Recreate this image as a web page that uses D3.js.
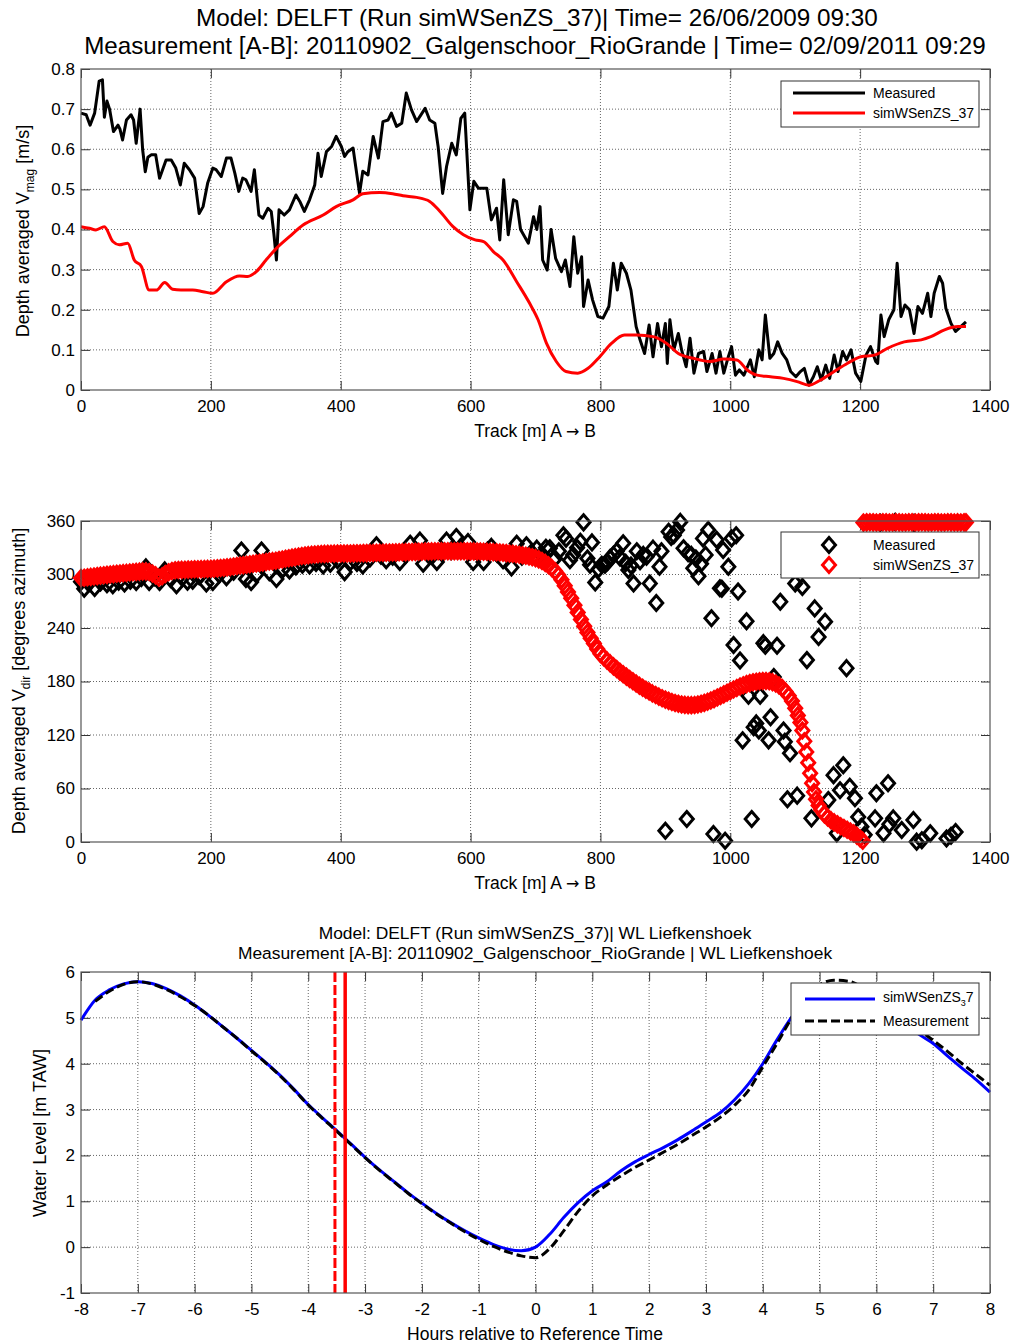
<!DOCTYPE html>
<html>
<head>
<meta charset="utf-8">
<script src="https://cdn.jsdelivr.net/npm/d3@7"></script>
<style>
  body { margin: 0; background: #fff; }
  svg text { font-family: "Liberation Sans", Arial, sans-serif; fill: #000; }
</style>
</head>
<body>
<div id="chart-area"></div>
<script>
/*
*    velocity / direction / water level along track
*/

// ---- panel 1 : depth averaged velocity magnitude [m/s] vs track [m]
var measuredVmag = [
  [0,0.69],[8,0.686],[14,0.66],[21,0.69],[28,0.77],[33,0.773],[36,0.68],[40,0.72],[44,0.70],[50,0.644],
  [57,0.66],[60,0.65],[64,0.623],[70,0.673],[77,0.686],[81,0.673],[85,0.615],[91,0.70],[95,0.598],[99,0.544],
  [103,0.58],[108,0.586],[115,0.586],[121,0.528],[131,0.573],[139,0.573],[146,0.553],[153,0.511],[159,0.565],[167,0.549],
  [175,0.528],[182,0.44],[188,0.457],[195,0.515],[203,0.553],[208,0.549],[216,0.532],[224,0.578],[231,0.578],[237,0.54],
  [243,0.495],[249,0.528],[254,0.524],[262,0.495],[267,0.549],[274,0.436],[280,0.428],[288,0.453],[293,0.445],[297,0.39],
  [301,0.324],[305,0.449],[313,0.436],[321,0.449],[331,0.486],[337,0.47],[344,0.445],[352,0.474],[360,0.511],[365,0.59],
  [370,0.532],[378,0.594],[386,0.607],[393,0.632],[401,0.607],[406,0.582],[411,0.594],[419,0.603],[429,0.49],[434,0.545],
  [442,0.536],[450,0.632],[458,0.578],[465,0.669],[473,0.673],[478,0.69],[486,0.657],[494,0.665],[501,0.74],[509,0.698],
  [517,0.669],[530,0.702],[537,0.673],[545,0.665],[550,0.607],[557,0.49],[563,0.557],[571,0.615],[578,0.586],[585,0.677],
  [591,0.69],[599,0.449],[605,0.52],[612,0.503],[625,0.503],[632,0.424],[640,0.453],[645,0.374],[651,0.524],[658,0.387],
  [666,0.474],[671,0.47],[677,0.40],[689,0.366],[697,0.432],[702,0.40],[707,0.457],[711,0.324],[718,0.299],[724,0.40],
  [731,0.328],[740,0.295],[746,0.324],[753,0.258],[759,0.382],[765,0.291],[771,0.332],[774,0.208],[781,0.274],[788,0.224],
  [796,0.183],[804,0.179],[813,0.208],[820,0.316],[826,0.249],[832,0.316],[840,0.291],[847,0.249],[855,0.158],[861,0.125],
  [868,0.091],[875,0.162],[881,0.083],[888,0.166],[894,0.108],[900,0.166],[903,0.066],[907,0.175],[913,0.10],[920,0.141],
  [925,0.10],[932,0.058],[938,0.129],[944,0.042],[951,0.091],[959,0.096],[964,0.046],[972,0.091],[978,0.042],[984,0.096],
  [990,0.042],[997,0.083],[1002,0.108],[1008,0.037],[1014,0.05],[1021,0.037],[1031,0.075],[1037,0.033],[1044,0.10],[1049,0.075],
  [1054,0.187],[1061,0.079],[1067,0.091],[1073,0.12],[1080,0.091],[1087,0.075],[1093,0.046],[1101,0.033],[1108,0.046],[1114,0.054],
  [1121,0.012],[1128,0.033],[1134,0.058],[1140,0.025],[1147,0.062],[1153,0.029],[1160,0.087],[1166,0.046],[1173,0.096],[1179,0.075],
  [1186,0.10],[1193,0.042],[1201,0.021],[1209,0.087],[1216,0.108],[1224,0.071],[1227,0.066],[1232,0.187],[1237,0.133],[1244,0.175],
  [1252,0.20],[1257,0.316],[1263,0.183],[1269,0.212],[1276,0.20],[1283,0.141],[1289,0.208],[1296,0.191],[1304,0.241],[1309,0.183],
  [1314,0.241],[1322,0.283],[1327,0.266],[1332,0.204],[1340,0.166],[1347,0.146],[1355,0.158],[1363,0.17]
];
var simVmag = [
  [0,0.407],[13,0.403],[23,0.399],[36,0.407],[49,0.37],[59,0.362],[72,0.366],[82,0.324],[93,0.308],[105,0.249],
  [116,0.249],[129,0.268],[141,0.251],[154,0.249],[172,0.249],[188,0.245],[203,0.241],[224,0.27],[244,0.284],[257,0.283],
  [270,0.295],[285,0.324],[301,0.353],[321,0.382],[342,0.411],[373,0.436],[393,0.457],[419,0.474],[434,0.489],[460,0.492],
  [480,0.489],[496,0.484],[517,0.48],[537,0.47],[553,0.445],[573,0.407],[589,0.387],[607,0.374],[620,0.37],[635,0.345],
  [650,0.324],[671,0.27],[691,0.216],[704,0.175],[717,0.116],[732,0.071],[747,0.046],[765,0.042],[781,0.054],[799,0.083],
  [817,0.116],[837,0.137],[856,0.137],[881,0.133],[902,0.116],[920,0.091],[943,0.079],[969,0.071],[990,0.077],[1010,0.075],
  [1026,0.05],[1041,0.037],[1062,0.033],[1082,0.029],[1103,0.021],[1121,0.012],[1139,0.025],[1160,0.046],[1180,0.066],[1201,0.083],
  [1222,0.087],[1242,0.104],[1268,0.12],[1294,0.125],[1309,0.133],[1330,0.15],[1351,0.158],[1363,0.158]
];

// ---- panel 2 : depth averaged direction [degrees azimuth] vs track [m]
var measuredVdir = [
  [0,292],[5,284],[12,290],[21,285],[30,291],[40,289],[49,288],[58,292],[67,290],[76,293],[85,291.5],[93,296],[100,308],
  [105,291.5],[113,297],[121,291.5],[129,304.6],[138,295],[147,288],[156,296],[164,292],[172,293],[182,298],[193,290],
  [203,291.5],[213,300],[224,297],[235,303],[247,327],[254,295],[262,291.5],[270,300],[278,327],[290,302.7],[301,295],
  [311,306],[321,304.6],[331,309],[341,311],[352,310],[362,313],[373,310],[384,312],[395,316],[406,302.7],[415,314],
  [425,313],[434,310],[445,318],[455,332.7],[462,321],[470,316],[480,320],[491,314],[500,322],[507,334.5],[515,326],
  [522,338],[527,312],[535,325],[541,321],[548,314],[556,324],[563,338],[570,326],[578,342],[587,328],[596,336.5],
  [604,314],[612,324],[620,314],[626,327],[632,331],[641,323],[650,316],[657,322],[663,308],[671,334.5],[679,320],
  [686,332.7],[694,325],[702,329],[710,322],[716,330],[722,329.4],[730,318],[736,326],[743,344],[747,340],[753,316],
  [758,322],[764,330],[769,336.8],[774,358.5],[780,318],[784,311],[787,336],[792,291],[797,306],[802,311],[807,311],
  [811,314],[815,318.6],[820,322],[825,326],[830,319],[835,335],[839,313],[843,305],[847,310],[851,290],[856,326],
  [861,315],[866,322],[871,320],[876,290],[881,329],[886,268],[891,308.7],[894,326],[900,12.7],[905,348],[909,342],
  [913,344],[918,350],[923,359],[928,329.4],[933,25.7],[935,324],[940,322],[943,307],[947,318],[951,298],[955,312],
  [958,340.5],[962,322],[966,350],[971,251],[974,9],[979,339],[984,284.5],[987,284],[989,327.5],[992,1.4],[997,308.7],
  [1002,340.5],[1005,221],[1009,344],[1012,281],[1015,203.5],[1019,114],[1025,247.5],[1028,164],[1033,25.7],[1036,128.7],
  [1040,133],[1044,125],[1046,164],[1051,223],[1054,220],[1059,114],[1062,140],[1067,185],[1072,220],[1077,269.5],
  [1082,125],[1084,112.5],[1088,48],[1092,99.5],[1100,290],[1103,52],[1111,286],[1118,204],[1125,26.5],[1130,262],
  [1136,230],[1146,247],[1151,47],[1159,75],[1164,9.7],[1169,58],[1174,86],[1179,195],[1184,62],[1192,49],[1197,28],
  [1202,17],[1207,8],[1223,26.5],[1225,54.6],[1231,358],[1236,9.7],[1243,65.8],[1245,20],[1251,26.5],[1254,359],
  [1264,13.5],[1282,24.7],[1283,358],[1287,0.4],[1295,2],[1308,9.7],[1333,4],[1340,7],[1347,11.2]
];
var simVdir = [
  [0,296],[5,296.4],[10,296.9],[15,297.3],[20,297.8],[25,298.2],[30,298.7],[35,299.1],[40,299.6],[45,300],
  [50,300.4],[55,300.8],[60,301.1],[65,301.5],[70,301.8],[75,302.2],[80,302.5],[85,302.9],[90,303.2],[95,303.5],
  [100,303.5],[105,302.8],[110,301.2],[115,299],[120,296.5],[125,298],[130,300.5],[135,302.6],[140,304],[145,304.7],
  [150,305],[155,305.2],[160,305.4],[165,305.5],[170,305.6],[175,305.8],[180,305.9],[185,306],[190,306.1],[195,306.3],
  [200,306.4],[205,306.6],[210,306.9],[215,307.2],[220,307.5],[225,308],[230,308.5],[235,309],[240,309.5],[245,310],
  [250,310.5],[255,311],[260,311.5],[265,312],[270,312.5],[275,313],[280,313.5],[285,314],[290,314.5],[295,315],
  [300,315.5],[305,316.2],[310,316.9],[315,317.6],[320,318.3],[325,318.9],[330,319.5],[335,320.1],[340,320.7],[345,321.2],
  [350,321.7],[355,322.1],[360,322.5],[365,322.8],[370,323],[375,323.1],[380,323.2],[385,323.3],[390,323.4],[395,323.5],
  [400,323.5],[405,323.5],[410,323.6],[415,323.6],[420,323.7],[425,323.8],[430,323.9],[435,324],[440,324],[445,324.1],
  [450,324.2],[455,324.3],[460,324.3],[465,324.4],[470,324.5],[475,324.6],[480,324.7],[485,324.8],[490,324.9],[495,325],
  [500,325.1],[505,325.2],[510,325.3],[515,325.4],[520,325.5],[525,325.6],[530,325.7],[535,325.8],[540,325.9],[545,326],
  [550,326],[555,326],[560,326.1],[565,326.1],[570,326.1],[575,326.1],[580,326],[585,326],[590,326],[595,326],
  [600,325.9],[605,325.9],[610,325.8],[615,325.7],[620,325.6],[625,325.5],[630,325.3],[635,325.1],[640,324.9],[645,324.6],
  [650,324.3],[655,324],[660,323.6],[665,323.2],[670,322.7],[675,322.2],[680,321.6],[685,321],[690,320.2],[695,319.4],
  [700,318.4],[705,317],[710,315.2],[715,313],[720,310.4],[725,307.4],[730,304],[735,299.5],[740,294],[745,287.5],
  [750,280.5],[755,273.5],[760,265.5],[765,257.5],[770,249.5],[775,242],[780,235],[785,228.5],[790,222.5],[795,216.5],
  [800,211],[805,207.2],[810,203.7],[815,200.3],[820,197],[825,194],[830,191],[835,188.2],[840,185.5],[845,182.8],
  [850,180.2],[855,177.7],[860,175.3],[865,173],[870,170.8],[875,168.7],[880,166.7],[885,164.8],[890,163],[895,161.3],
  [900,159.7],[905,158.3],[910,157],[915,155.9],[920,155],[925,154.3],[930,153.8],[935,153.5],[940,153.5],[945,153.7],
  [950,154.2],[955,155],[960,156],[965,157.2],[970,158.6],[975,160.2],[980,162],[985,163.8],[990,165.6],[995,167.4],
  [1000,169.2],[1005,171],[1010,172.7],[1015,174.3],[1020,175.8],[1025,177.1],[1030,178.2],[1035,179.1],[1040,179.8],[1045,180.3],
  [1050,180.6],[1055,180.6],[1060,180.2],[1065,179.3],[1070,177.8],[1075,175.6],[1080,172.6],[1085,168.8],[1090,164],[1095,158],
  [1100,150],[1104,142],[1108,134],[1111,125],[1114,113],[1117,101],[1120,89],[1123,77],[1126,66],[1129,56],
  [1132,48],[1136,41],[1140,36],[1145,31],[1150,27.5],[1155,24.5],[1160,22],[1165,19.8],[1170,17.7],[1175,15.7],
  [1180,13.8],[1185,11.8],[1190,9.7],[1195,7],[1200,4],[1204,1.5],
  [1205,358.2],[1210,358.5],[1215,358.6],[1220,358.5],[1225,358.3],[1230,358.4],[1235,358.6],[1240,358.5],[1245,358.3],[1250,358.4],
  [1255,358.6],[1260,358.5],[1265,358.3],[1270,358.4],[1275,358.6],[1280,358.5],[1285,358.4],[1290,358.5],[1295,358.6],[1300,358.5],
  [1305,358.3],[1310,358.4],[1315,358.6],[1320,358.5],[1325,358.3],[1330,358.4],[1335,358.6],[1340,358.5],[1345,358.4],[1350,358.5],
  [1355,358.4],[1360,358.5],[1363,358.5]
];

// ---- panel 3 : water level [m TAW] vs hours relative to reference time
var hours = [
  -8,-7.75,-7.5,-7.25,-7,-6.75,-6.5,-6.25,-6,-5.75,-5.5,-5.25,-5,-4.75,-4.5,-4.25,-4,-3.75,-3.5,-3.25,-3,
  -2.75,-2.5,-2.25,-2,-1.75,-1.5,-1.25,-1,-0.75,-0.5,-0.25,0,0.25,0.5,0.75,1,1.25,1.5,1.75,2,2.25,2.5,2.75,
  3,3.25,3.5,3.75,4,4.25,4.5,4.75,5,5.25,5.5,5.75,6,6.25,6.5,6.75,7,7.25,7.5,7.75,8
];
var simWL = [
  4.95,5.39,5.61,5.74,5.79,5.75,5.64,5.48,5.28,5.05,4.80,4.55,4.29,4.03,3.75,3.44,3.11,2.82,2.54,2.25,1.96,
  1.69,1.44,1.19,0.96,0.74,0.54,0.36,0.20,0.06,-0.04,-0.08,0.0,0.28,0.65,0.97,1.23,1.42,1.66,1.86,2.02,2.17,2.34,2.53,
  2.73,2.93,3.21,3.56,4.00,4.52,5.00,5.38,5.62,5.72,5.72,5.60,5.38,5.12,4.88,4.64,4.44,4.17,3.91,3.66,3.38
];
var measWL = [
  null,5.36,5.58,5.73,5.79,5.74,5.62,5.46,5.27,5.05,4.80,4.55,4.28,4.02,3.74,3.43,3.10,2.81,2.53,2.24,1.95,
  1.68,1.43,1.18,0.95,0.73,0.53,0.34,0.17,0.02,-0.10,-0.19,-0.23,-0.03,0.36,0.78,1.12,1.35,1.55,1.74,1.90,2.07,2.24,2.43,
  2.62,2.83,3.09,3.42,3.93,4.44,4.98,5.45,5.72,5.82,5.80,5.67,5.48,5.25,5.00,4.74,4.51,4.27,4.01,3.77,3.53
];
var measTime = -3.53;   // dashed red line
var modelTime = -3.35;  // solid red line

// ---- ticks
var trackTicks = [0, 200, 400, 600, 800, 1000, 1200, 1400];
var vmagTicks = [0, 0.1, 0.2, 0.3, 0.4, 0.5, 0.6, 0.7, 0.8];
var vdirTicks = [0, 60, 120, 180, 240, 300, 360];
var hourTicks = [-8, -7, -6, -5, -4, -3, -2, -1, 0, 1, 2, 3, 4, 5, 6, 7, 8];
var wlTicks = [-1, 0, 1, 2, 3, 4, 5, 6];

var width = 1013;
var height = 1344;
var plotLeft = 81;
var plotRight = 990;

var svg = d3.select("#chart-area")
  .append("svg")
  .attr("width", width)
  .attr("height", height);

var plain = d => String(d);

// axes box with inward ticks on all four sides and dotted grid
function makeAxes(top, bottom, xDomain, xTicks, yDomain, yTicks, yFormat) {
  var x = d3.scaleLinear().domain(xDomain).range([plotLeft, plotRight]);
  var y = d3.scaleLinear().domain(yDomain).range([bottom, top]);

  var grid = svg.append("g");
  grid.selectAll(".vgrid")
    .data(xTicks.slice(1, -1)).enter()
    .append("line")
    .attr("x1", d => x(d)).attr("x2", d => x(d))
    .attr("y1", top).attr("y2", bottom)
    .attr("stroke", "#666").attr("stroke-width", 1)
    .attr("stroke-dasharray", "1,2");
  grid.selectAll(".hgrid")
    .data(yTicks.slice(1, -1)).enter()
    .append("line")
    .attr("y1", d => y(d)).attr("y2", d => y(d))
    .attr("x1", plotLeft).attr("x2", plotRight)
    .attr("stroke", "#666").attr("stroke-width", 1)
    .attr("stroke-dasharray", "1,2");

  var bottomAxis = d3.axisBottom(x).tickValues(xTicks).tickSize(-9).tickPadding(10).tickFormat(plain);
  var topAxis = d3.axisTop(x).tickValues(xTicks).tickSize(-9).tickFormat("");
  var leftAxis = d3.axisLeft(y).tickValues(yTicks).tickSize(-9).tickPadding(6).tickFormat(yFormat || plain);
  var rightAxis = d3.axisRight(y).tickValues(yTicks).tickSize(-9).tickFormat("");

  var axes = svg.append("g");
  axes.append("g").attr("transform", "translate(0," + bottom + ")").call(bottomAxis);
  axes.append("g").attr("transform", "translate(0," + top + ")").call(topAxis);
  axes.append("g").attr("transform", "translate(" + plotLeft + ",0)").call(leftAxis);
  axes.append("g").attr("transform", "translate(" + plotRight + ",0)").call(rightAxis);
  axes.selectAll(".domain").remove();
  axes.selectAll(".tick line").attr("stroke", "#333");
  axes.selectAll(".tick text").attr("font-size", "17px")
    .attr("font-family", "'Liberation Sans', Arial, sans-serif").attr("fill", "#000");

  var g = svg.append("g");
  return { x: x, y: y, g: g, top: top, bottom: bottom };
}

function box(a) {
  svg.append("rect")
    .attr("x", plotLeft).attr("y", a.top)
    .attr("width", plotRight - plotLeft).attr("height", a.bottom - a.top)
    .attr("fill", "none").attr("stroke", "#555").attr("stroke-width", 1.2);
}

function diamond(cx, cy) {
  return "M" + cx + "," + (cy - 7.5) + "L" + (cx + 6.5) + "," + cy + "L" + cx + "," + (cy + 7.5) + "L" + (cx - 6.5) + "," + cy + "Z";
}

function legendBox(x0, y0, w, h) {
  var lg = svg.append("g");
  lg.append("rect").attr("x", x0).attr("y", y0).attr("width", w).attr("height", h)
    .attr("fill", "#fff").attr("stroke", "#333").attr("stroke-width", 1);
  return lg;
}

function trackLabel(yPos) {
  var t = svg.append("text").attr("x", 535).attr("y", yPos).attr("text-anchor", "middle")
    .attr("font-size", "17.5px");
  t.append("tspan").text("Track [m]  A ");
  t.append("tspan").attr("font-family", "'DejaVu Sans', sans-serif").attr("font-size", "16px").text("\u2192");
  t.append("tspan").text(" B");
}

// ---- titles
svg.append("text").attr("x", 537).attr("y", 26).attr("text-anchor", "middle")
  .attr("font-size", "24.3px")
  .text("Model: DELFT (Run simWSenZS_37)| Time= 26/06/2009 09:30");
svg.append("text").attr("x", 535).attr("y", 54).attr("text-anchor", "middle")
  .attr("font-size", "24.2px")
  .text("Measurement [A-B]: 20110902_Galgenschoor_RioGrande | Time= 02/09/2011 09:29");

// ================= panel 1
var p1 = makeAxes(69, 390, [0, 1400], trackTicks, [0, 0.8], vmagTicks,
  d => d === 0 ? "0" : d3.format(".1f")(d));

p1.g.append("path").datum(measuredVmag)
  .attr("d", d3.line().x(d => p1.x(d[0])).y(d => p1.y(d[1])))
  .attr("fill", "none").attr("stroke", "#000").attr("stroke-width", 3).attr("stroke-linejoin", "round");
p1.g.append("path").datum(simVmag)
  .attr("d", d3.line().curve(d3.curveMonotoneX).x(d => p1.x(d[0])).y(d => p1.y(d[1])))
  .attr("fill", "none").attr("stroke", "#f00").attr("stroke-width", 3).attr("stroke-linejoin", "round");
box(p1);

var lg1 = legendBox(781, 81, 198, 46);
lg1.append("line").attr("x1", 793).attr("x2", 865).attr("y1", 93).attr("y2", 93).attr("stroke", "#000").attr("stroke-width", 3);
lg1.append("line").attr("x1", 793).attr("x2", 865).attr("y1", 113).attr("y2", 113).attr("stroke", "#f00").attr("stroke-width", 3);
lg1.append("text").attr("x", 873).attr("y", 98).attr("font-size", "14px").text("Measured");
lg1.append("text").attr("x", 873).attr("y", 118).attr("font-size", "14px").text("simWSenZS_37");

var yl1 = svg.append("text").attr("transform", "translate(29,231) rotate(-90)")
  .attr("text-anchor", "middle").attr("font-size", "18px");
yl1.append("tspan").text("Depth averaged  V");
yl1.append("tspan").attr("font-size", "12px").attr("dy", 5).text("mag");
yl1.append("tspan").attr("dy", -5).text(" [m/s]");
trackLabel(437);

// ================= panel 2
var p2 = makeAxes(521, 842, [0, 1400], trackTicks, [0, 360], vdirTicks);
box(p2);
p2.g.selectAll(".meas")
  .data(measuredVdir).enter()
  .append("path")
  .attr("d", d => diamond(p2.x(d[0]), p2.y(d[1])))
  .attr("fill", "none").attr("stroke", "#000").attr("stroke-width", 3);
p2.g.selectAll(".sim")
  .data(simVdir).enter()
  .append("path")
  .attr("d", d => diamond(p2.x(d[0]), p2.y(d[1])))
  .attr("fill", "none").attr("stroke", "#f00").attr("stroke-width", 3);

var lg2 = legendBox(781, 532, 198, 46);
lg2.append("path").attr("d", diamond(829, 545)).attr("fill", "none").attr("stroke", "#000").attr("stroke-width", 3);
lg2.append("path").attr("d", diamond(829, 565)).attr("fill", "none").attr("stroke", "#f00").attr("stroke-width", 3);
lg2.append("text").attr("x", 873).attr("y", 550).attr("font-size", "14px").text("Measured");
lg2.append("text").attr("x", 873).attr("y", 570).attr("font-size", "14px").text("simWSenZS_37");

var yl2 = svg.append("text").attr("transform", "translate(25,681) rotate(-90)")
  .attr("text-anchor", "middle").attr("font-size", "18px");
yl2.append("tspan").text("Depth averaged  V");
yl2.append("tspan").attr("font-size", "12px").attr("dy", 5).text("dir");
yl2.append("tspan").attr("dy", -5).text(" [degrees azimuth]");
trackLabel(889);

// ================= panel 3
svg.append("text").attr("x", 535).attr("y", 939).attr("text-anchor", "middle")
  .attr("font-size", "17.4px").text("Model: DELFT (Run simWSenZS_37)| WL Liefkenshoek");
svg.append("text").attr("x", 535).attr("y", 959).attr("text-anchor", "middle")
  .attr("font-size", "17.4px").text("Measurement [A-B]: 20110902_Galgenschoor_RioGrande | WL Liefkenshoek");

var p3 = makeAxes(972, 1293, [-8, 8], hourTicks, [-1, 6], wlTicks);
var wlSim = hours.map((h, i) => [h, simWL[i]]);
var wlMeas = hours.map((h, i) => [h, measWL[i]]).filter(d => d[1] !== null);
var line3 = d3.line().curve(d3.curveMonotoneX).x(d => p3.x(d[0])).y(d => p3.y(d[1]));
p3.g.append("path").datum(wlSim).attr("d", line3)
  .attr("fill", "none").attr("stroke", "#00f").attr("stroke-width", 3);
p3.g.append("path").datum(wlMeas).attr("d", line3)
  .attr("fill", "none").attr("stroke", "#000").attr("stroke-width", 3).attr("stroke-dasharray", "9,4");
p3.g.append("line").attr("x1", p3.x(measTime)).attr("x2", p3.x(measTime)).attr("y1", 972).attr("y2", 1293)
  .attr("stroke", "#f00").attr("stroke-width", 3).attr("stroke-dasharray", "10,3");
p3.g.append("line").attr("x1", p3.x(modelTime)).attr("x2", p3.x(modelTime)).attr("y1", 972).attr("y2", 1293)
  .attr("stroke", "#f00").attr("stroke-width", 3.5);
box(p3);

var lg3 = legendBox(791, 983, 188, 52);
lg3.append("line").attr("x1", 805).attr("x2", 875).attr("y1", 999).attr("y2", 999).attr("stroke", "#00f").attr("stroke-width", 3);
lg3.append("line").attr("x1", 805).attr("x2", 875).attr("y1", 1021).attr("y2", 1021).attr("stroke", "#000").attr("stroke-width", 3).attr("stroke-dasharray", "9,4");
var lt3 = lg3.append("text").attr("x", 883).attr("y", 1002).attr("font-size", "14px");
lt3.append("tspan").text("simWSenZS");
lt3.append("tspan").attr("font-size", "9px").attr("dy", 4).text("3");
lt3.append("tspan").attr("dy", -4).text("7");
lg3.append("text").attr("x", 883).attr("y", 1026).attr("font-size", "14px").text("Measurement");

svg.append("text").attr("transform", "translate(46,1133) rotate(-90)")
  .attr("text-anchor", "middle").attr("font-size", "18px").text("Water Level [m TAW]");
svg.append("text").attr("x", 535).attr("y", 1340).attr("text-anchor", "middle")
  .attr("font-size", "17.5px").text("Hours relative to Reference Time");
</script>
</body>
</html>
